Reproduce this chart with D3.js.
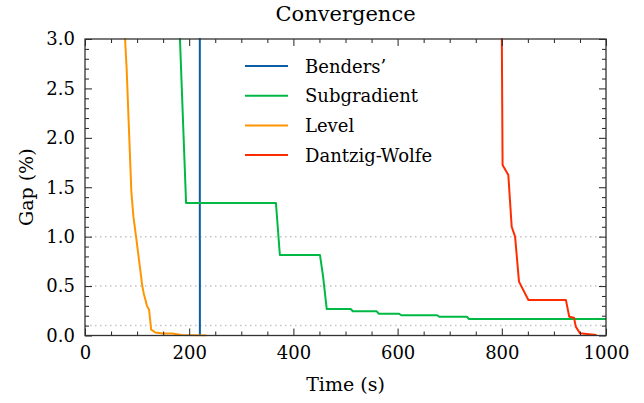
<!DOCTYPE html>
<html>
<head>
<meta charset="utf-8">
<script src="https://cdn.jsdelivr.net/npm/d3@7"></script>
<style>
  body { margin: 0; background: #fff; }
</style>
</head>
<body>
<div id="chart"></div>
<script>
var svgWidth = 644;
var svgHeight = 403;

var margin = { top: 39, right: 38, bottom: 67.5, left: 85 };
var width = svgWidth - margin.left - margin.right;
var height = svgHeight - margin.top - margin.bottom;

var serif = "'DejaVu Serif', serif";

// data (time in s, gap in %)
var seriesNames = ["Benders’", "Subgradient", "Level", "Dantzig-Wolfe"];
var seriesColors = ["#0C5DA5", "#00B945", "#FF9500", "#FF2C00"];

var bendersTime = [219.5, 220.5];
var bendersGap = [20, 0];

var subgradTime = [178, 194, 366.5, 374, 451, 457, 464, 510, 514, 560, 564, 603, 607, 676, 680, 733, 737, 1000];
var subgradGap = [3.6, 1.34, 1.34, 0.815, 0.815, 0.595, 0.268, 0.268, 0.245, 0.245, 0.22, 0.22, 0.205, 0.205, 0.19, 0.19, 0.167, 0.167];

var levelTime = [74, 80, 85, 89, 93, 98, 104, 110, 113, 119, 123, 127, 135, 150, 168, 185, 233];
var levelGap = [3.3, 2.69, 2.0, 1.45, 1.2, 1.0, 0.75, 0.5, 0.42, 0.3, 0.26, 0.06, 0.03, 0.02, 0.02, 0.005, 0];

var dwTime = [799.5, 801.5, 812.5, 819, 825.5, 833, 851, 923, 929.5, 938.6, 942, 950, 963, 982];
var dwGap = [3.5, 1.726, 1.625, 1.1, 1.0, 0.545, 0.36, 0.36, 0.19, 0.18, 0.09, 0.022, 0.015, 0.005];

var gridGaps = [0.1, 0.5, 1.0];
var xTicks = [0, 200, 400, 600, 800, 1000];
var yTicks = [0, 0.5, 1.0, 1.5, 2.0, 2.5, 3.0];

var sx = 1.0;

var svg = d3.select("#chart")
    .append("svg")
    .attr("width", svgWidth)
    .attr("height", svgHeight);

var chartGroup = svg.append("g")
    .attr("transform", `translate(${margin.left}, ${margin.top})`);

var xScale = d3.scaleLinear().domain([0, 1000]).range([0, width]);
var yScale = d3.scaleLinear().domain([0, 3]).range([height, 0]);

// dotted reference lines
chartGroup.selectAll(".grid")
    .data(gridGaps)
    .enter()
    .append("line")
    .attr("x1", 0)
    .attr("x2", width)
    .attr("y1", d => yScale(d))
    .attr("y2", d => yScale(d))
    .attr("stroke", "#c4c4c4")
    .attr("stroke-width", 1.5)
    .attr("stroke-dasharray", "1.5,3.5");

// series
svg.append("clipPath")
    .attr("id", "plotclip")
    .append("rect")
    .attr("width", width)
    .attr("height", height + 2)
    .attr("y", -1);

var series = [
    d3.zip(bendersTime, bendersGap),
    d3.zip(subgradTime, subgradGap),
    d3.zip(levelTime, levelGap),
    d3.zip(dwTime, dwGap)
];

var line = d3.line()
    .x(d => xScale(d[0]))
    .y(d => yScale(d[1]));

chartGroup.append("g")
    .attr("clip-path", "url(#plotclip)")
    .selectAll("path")
    .data(series)
    .enter()
    .append("path")
    .attr("d", line)
    .attr("fill", "none")
    .attr("stroke", (d, i) => seriesColors[i])
    .attr("stroke-width", 2)
    .attr("stroke-linejoin", "round");

// axes: major and minor ticks on all four sides, pointing inward
function styleAxis(g) {
    g.select(".domain").remove();
    g.attr("font-family", null);
    g.selectAll(".tick line").attr("stroke", "#222").attr("stroke-width", 1);
}

var xMinor = d3.range(0, 1001, 50).filter(v => v % 200 !== 0);
var yMinor = d3.range(0, 31, 1).map(v => v / 10).filter(v => Math.round(v * 10) % 5 !== 0);

var bottomAxis = chartGroup.append("g")
    .attr("transform", `translate(0, ${height})`)
    .call(d3.axisBottom(xScale).tickValues(xTicks).tickSize(-7).tickSizeOuter(0).tickPadding(11).tickFormat(d3.format("d")));
styleAxis(bottomAxis);
bottomAxis.selectAll("text")
    .style("font-size", "18px")
    .attr("transform", `scale(${sx},1)`);

chartGroup.append("g")
    .attr("transform", `translate(0, ${height})`)
    .call(d3.axisBottom(xScale).tickValues(xMinor).tickSize(-4).tickFormat(""))
    .call(styleAxis);

var leftAxis = chartGroup.append("g")
    .call(d3.axisLeft(yScale).tickValues(yTicks).tickSize(-7).tickSizeOuter(0).tickPadding(10).tickFormat(d3.format(".1f")));
styleAxis(leftAxis);
leftAxis.selectAll("text")
    .style("font-size", "18px")
    .attr("x", -10 / sx)
    .attr("transform", `scale(${sx},1)`);

chartGroup.append("g")
    .call(d3.axisLeft(yScale).tickValues(yMinor).tickSize(-4).tickFormat(""))
    .call(styleAxis);

chartGroup.append("g")
    .call(d3.axisTop(xScale).tickValues(xTicks).tickSize(-7).tickFormat(""))
    .call(styleAxis);
chartGroup.append("g")
    .call(d3.axisTop(xScale).tickValues(xMinor).tickSize(-4).tickFormat(""))
    .call(styleAxis);

chartGroup.append("g")
    .attr("transform", `translate(${width}, 0)`)
    .call(d3.axisRight(yScale).tickValues(yTicks).tickSize(-7).tickFormat(""))
    .call(styleAxis);
chartGroup.append("g")
    .attr("transform", `translate(${width}, 0)`)
    .call(d3.axisRight(yScale).tickValues(yMinor).tickSize(-4).tickFormat(""))
    .call(styleAxis);

// frame
chartGroup.append("rect")
    .attr("width", width)
    .attr("height", height)
    .attr("fill", "none")
    .attr("stroke", "#333")
    .attr("stroke-width", 1.3);

// legend
var legend = chartGroup.append("g")
    .attr("transform", "translate(160, 27)");

var legendRows = legend.selectAll("g")
    .data(seriesNames)
    .enter()
    .append("g")
    .attr("transform", (d, i) => `translate(0, ${i * 29.7})`);

legendRows.append("line")
    .attr("x1", 0)
    .attr("x2", 43)
    .attr("stroke", (d, i) => seriesColors[i])
    .attr("stroke-width", 2);

legendRows.append("text")
    .attr("transform", `translate(60, 6.5) scale(${sx},1)`)
    .style("font-size", "18px")
    .text(d => d);

// labels
svg.append("text")
    .attr("transform", `translate(${margin.left + width / 2}, 21)`)
    .style("text-anchor", "middle")
    .style("font-size", "21px")
    .text("Convergence");

svg.append("text")
    .attr("transform", `translate(${margin.left + width / 2}, 391) scale(${sx},1)`)
    .style("text-anchor", "middle")
    .style("font-size", "19px")
    .text("Time (s)");

svg.append("text")
    .attr("transform", `translate(33, ${margin.top + height / 2}) rotate(-90) scale(${sx},1)`)
    .style("text-anchor", "middle")
    .style("font-size", "19px")
    .text("Gap (%)");

svg.selectAll("text")
    .style("font-family", serif)
    .style("fill", "#000");
</script>
</body>
</html>
